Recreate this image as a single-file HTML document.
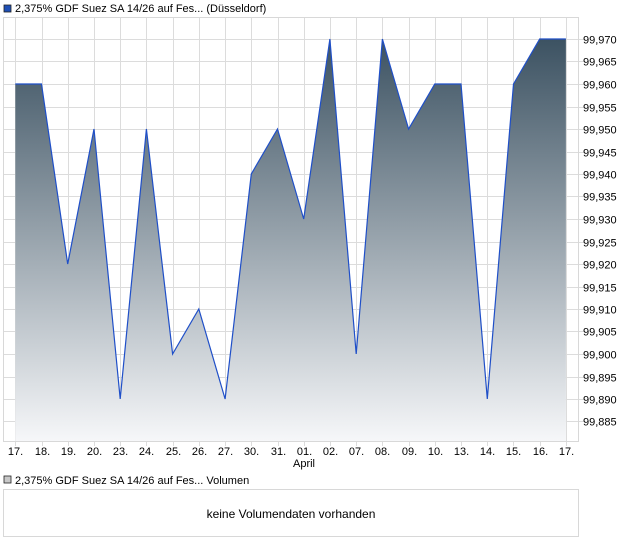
<!DOCTYPE html>
<html><head><meta charset="utf-8"><style>
body{margin:0;background:#fff;font-family:"Liberation Sans",sans-serif;}
svg{display:block}
</style></head><body>
<svg width="620" height="546" xmlns="http://www.w3.org/2000/svg" font-family="Liberation Sans, sans-serif" font-size="11" fill="#000">
<defs>
<linearGradient id="g" x1="0" y1="39" x2="0" y2="441" gradientUnits="userSpaceOnUse">
<stop offset="0" stop-color="#3c5262"/>
<stop offset="1" stop-color="#f6f7f9"/>
</linearGradient>
</defs>
<rect x="4" y="5" width="7" height="7" fill="#1f4fb5" stroke="#222" stroke-width="0.8"/>
<text x="15" y="12">2,375% GDF Suez SA 14/26 auf Fes... (Düsseldorf)</text>
<g id="grid" stroke="#dcdcdc" stroke-width="1"></g>
<path id="area" fill="url(#g)"/>
<polyline id="line" fill="none" stroke="#1f4fc8" stroke-width="1.2"/>
<rect x="3.5" y="17.5" width="575" height="424" fill="none" stroke="#d8d8d8"/>
<g id="ylab"></g>
<g id="xlab"></g>
<text x="293" y="467">April</text>
<rect x="4" y="476" width="7" height="7" fill="#c8c8c8" stroke="#222" stroke-width="0.8"/>
<text x="15" y="484">2,375% GDF Suez SA 14/26 auf Fes... Volumen</text>
<rect x="3.5" y="489.5" width="575" height="47" fill="none" stroke="#d8d8d8"/>
<text x="291" y="518" text-anchor="middle" font-size="12">keine Volumendaten vorhanden</text>
</svg>
<script>
const NS="http://www.w3.org/2000/svg";
const data=[99.96,99.96,99.92,99.95,99.89,99.95,99.90,99.91,99.89,99.94,99.95,99.93,99.97,99.90,99.97,99.95,99.96,99.96,99.89,99.96,99.97,99.97];
const labs=["17.","18.","19.","20.","23.","24.","25.","26.","27.","30.","31.","01.","02.","07.","08.","09.","10.","13.","14.","15.","16.","17."];
const X=i=>15.3+i*26.22, Y=v=>39+(99.97-v)/0.005*22.5;
const grid=document.getElementById("grid"),yl=document.getElementById("ylab"),xl=document.getElementById("xlab");
function el(t,a,p,txt){const e=document.createElementNS(NS,t);for(const k in a)e.setAttribute(k,a[k]);if(txt)e.textContent=txt;p.appendChild(e);}
for(let k=0;k<=17;k++){const v=99.97-k*0.005,y=Math.round(Y(v))+0.5;
 el("line",{x1:3,x2:586,y1:y,y2:y},grid);
 el("text",{x:583,y:y+4},yl,v.toFixed(3).replace(".",","));}
for(let i=0;i<22;i++){const x=Math.round(X(i))+0.5;
 el("line",{x1:x,x2:x,y1:17,y2:446},grid);
 el("text",{x:x,y:455,"text-anchor":"middle"},xl,labs[i]);}
let pts=data.map((v,i)=>X(i).toFixed(1)+","+Y(v).toFixed(1));
document.getElementById("line").setAttribute("points",pts.join(" "));
document.getElementById("area").setAttribute("d","M"+X(0)+",441 L"+pts.join(" L")+" L"+X(21)+",441 Z");
</script>
</body></html>
